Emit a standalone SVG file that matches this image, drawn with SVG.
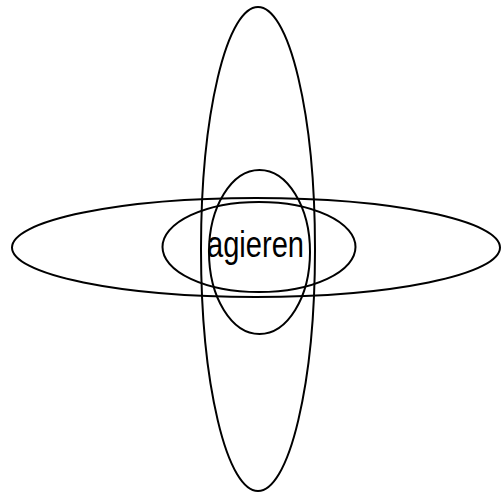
<svg xmlns="http://www.w3.org/2000/svg" width="501" height="492" viewBox="0 0 501 492">
<style>
.e{fill:none;stroke:#000;stroke-width:2}
.t{font-family:"Liberation Sans",Arial,sans-serif;font-size:36px;fill:#000}
</style>
<rect width="501" height="492" fill="#fff"/>
<g id="connectors"></g>
<g id="vbig"><ellipse class="e" cx="258" cy="249" rx="57" ry="242"/></g>
<g id="hbig"><ellipse class="e" cx="256" cy="247.5" rx="244" ry="49.5"/></g>
<g id="vsmall"><ellipse class="e" cx="259.5" cy="252" rx="50.5" ry="82"/></g>
<g id="hsmall"><ellipse class="e" cx="259" cy="247" rx="96.5" ry="45"/></g>
<g id="label"><text class="t" x="207" y="257" textLength="97" lengthAdjust="spacingAndGlyphs">agieren</text></g>
</svg>
